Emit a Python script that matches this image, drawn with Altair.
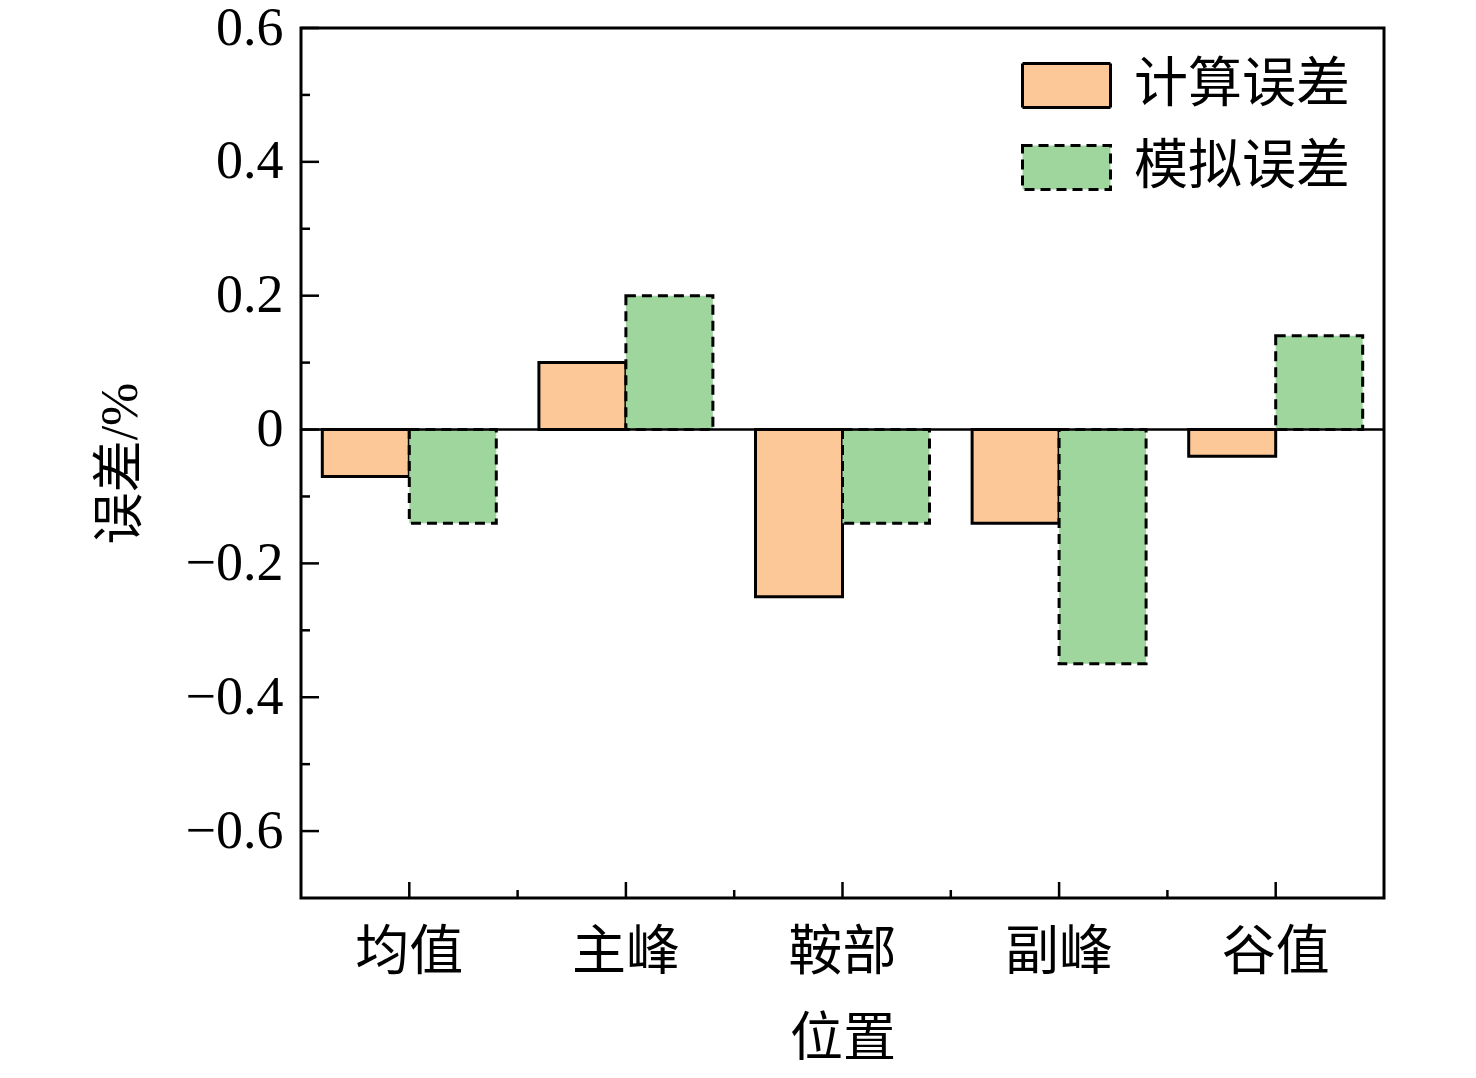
import altair as alt
import pandas as pd

categories = ["均值", "主峰", "鞍部", "副峰", "谷值"]
series_names = ["计算误差", "模拟误差"]
calc_err = [-0.07, 0.10, -0.25, -0.14, -0.04]
sim_err = [-0.14, 0.20, -0.14, -0.35, 0.14]
y_major = [-0.6, -0.4, -0.2, 0.0, 0.2, 0.4, 0.6]
y_minor = [-0.5, -0.3, -0.1, 0.1, 0.3, 0.5]
colors = ["#FCC897", "#9FD69D"]

rows = []
for i, c in enumerate(categories):
    rows.append({"cat": c, "series": series_names[0], "value": calc_err[i]})
    rows.append({"cat": c, "series": series_names[1], "value": sim_err[i]})
df = pd.DataFrame(rows)

FONT = "Liberation Serif, Times New Roman, Noto Sans CJK SC"
W, H = 1083, 870

xscale = alt.Scale(domain=categories, paddingInner=0, paddingOuter=0)
yscale = alt.Scale(domain=[-0.7, 0.6], nice=False, zero=False)


def make_legend():
    return alt.Legend(title=None, orient="none", legendX=720, legendY=12,
                      symbolType="M-1,-0.5H1V0.5H-1Z", symbolSize=7744,
                      symbolStrokeWidth=3, symbolOpacity=1,
                      labelFontSize=54, labelFont=FONT, labelColor="black",
                      labelLimit=400, labelOffset=22, rowPadding=8, padding=0)


bars = alt.Chart(df).mark_bar(strokeWidth=3).encode(
    x=alt.X("cat:N", scale=xscale, sort=categories,
            axis=alt.Axis(title="位置", ticks=False, domain=False, labelAngle=0,
                          labelFontSize=54, titleFontSize=53, labelPadding=28,
                          titlePadding=33, labelFont=FONT, titleFont=FONT,
                          labelColor="black", titleColor="black", titleFontWeight="normal")),
    xOffset=alt.XOffset("series:N", sort=series_names,
                        scale=alt.Scale(paddingInner=0, paddingOuter=0.245)),
    y=alt.Y("value:Q", scale=yscale,
            axis=alt.Axis(title="误差/%", values=y_major, ticks=False, domain=False, grid=False,
                          labelExpr="datum.value == 0 ? '0' : format(datum.value, '.1f')",
                          labelFontSize=54, titleFontSize=52, labelPadding=18,
                          titlePadding=38, labelFont=FONT, titleFont=FONT,
                          labelColor="black", titleColor="black", titleFontWeight="normal")),
    color=alt.Color("series:N", sort=series_names,
                    scale=alt.Scale(domain=series_names, range=colors),
                    legend=make_legend()),
    stroke=alt.Stroke("series:N", sort=series_names,
                      scale=alt.Scale(domain=series_names, range=["black", "black"]),
                      legend=make_legend()),
    strokeDash=alt.StrokeDash("series:N", sort=series_names,
                              scale=alt.Scale(domain=series_names, range=[[1, 0], [10, 6]]),
                              legend=make_legend()),
)

zero_df = pd.DataFrame({"v": [0.0]})
zero_line = alt.Chart(zero_df).mark_rule(color="black", strokeWidth=2.5).encode(
    y=alt.Y("v:Q", scale=yscale), x=alt.value(0), x2=alt.value(W))

ymaj_df = pd.DataFrame({"v": y_major})
ymin_df = pd.DataFrame({"v": y_minor})
ymaj_ticks = alt.Chart(ymaj_df).mark_rule(color="black", strokeWidth=2.5).encode(
    y=alt.Y("v:Q", scale=yscale), x=alt.value(0), x2=alt.value(18))
ymin_ticks = alt.Chart(ymin_df).mark_rule(color="black", strokeWidth=2.5).encode(
    y=alt.Y("v:Q", scale=yscale), x=alt.value(0), x2=alt.value(9))

xmaj_df = pd.DataFrame({"cat": categories})
xmin_df = pd.DataFrame({"cat": categories[1:]})
xmaj_ticks = alt.Chart(xmaj_df).mark_rule(color="black", strokeWidth=2.5).encode(
    x=alt.X("cat:N", scale=xscale, sort=categories, bandPosition=0.5),
    y=alt.value(H), y2=alt.value(H - 16))
xmin_ticks = alt.Chart(xmin_df).mark_rule(color="black", strokeWidth=2.5).encode(
    x=alt.X("cat:N", scale=xscale, sort=categories, bandPosition=0),
    y=alt.value(H), y2=alt.value(H - 8))

chart = alt.layer(bars, zero_line, ymaj_ticks, ymin_ticks, xmaj_ticks, xmin_ticks).properties(
    width=W, height=H,
    autosize=alt.AutoSizeParams(type="none"),
    padding={"left": 293, "top": 20, "right": 70, "bottom": 172},
).configure_view(stroke="black", strokeWidth=3).configure_axis(grid=False)

chart.save("out.html", embed_options={"renderer": "svg", "actions": False})
